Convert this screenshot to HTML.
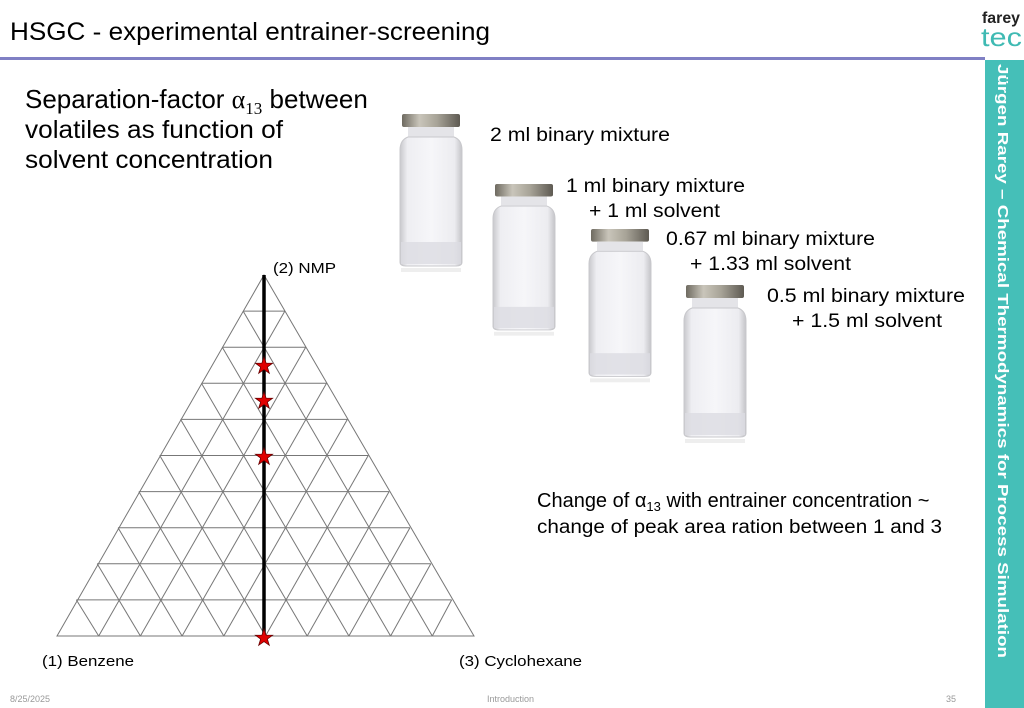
<!DOCTYPE html>
<html><head><meta charset="utf-8"><style>
html,body{margin:0;padding:0;background:#fff;}
body{width:1024px;height:708px;overflow:hidden;position:relative;font-family:"Liberation Sans",Arial,sans-serif;}
</style></head><body>
<svg width="1024" height="708" viewBox="0 0 1024 708" xmlns="http://www.w3.org/2000/svg" style="position:absolute;left:0;top:0">
<defs>
<linearGradient id="cap" x1="0" y1="0" x2="1" y2="0">
<stop offset="0" stop-color="#6e6a60"/><stop offset="0.3" stop-color="#c9c5ba"/><stop offset="0.6" stop-color="#a8a498"/><stop offset="1" stop-color="#5e5a52"/></linearGradient>
<linearGradient id="glass" x1="0" y1="0" x2="1" y2="0">
<stop offset="0" stop-color="#c8c8cc"/><stop offset="0.12" stop-color="#eeeef2"/><stop offset="0.5" stop-color="#f6f6f9"/><stop offset="0.88" stop-color="#ececf0"/><stop offset="1" stop-color="#c4c4c8"/></linearGradient>
<g id="vial">
<rect x="2" y="0" width="58" height="13" rx="2" fill="url(#cap)"/>
<rect x="8" y="13" width="46" height="10" fill="#e4e4e8"/>
<path d="M8 23 Q0 26 0 36 L0 148 Q0 152 6 152 L56 152 Q62 152 62 148 L62 36 Q62 26 54 23 Z" fill="url(#glass)" stroke="#c8c8cc" stroke-width="1"/>
<rect x="1" y="128" width="60" height="22" fill="#dcdce2" opacity="0.8"/>
<rect x="1" y="154" width="60" height="4" fill="#eeeeee"/>
</g>
<polygon id="star" points="0,-9 2.1,-2.9 8.6,-2.8 3.4,1.1 5.3,7.3 0,3.6 -5.3,7.3 -3.4,1.1 -8.6,-2.8 -2.1,-2.9" fill="#e00000" stroke="#600" stroke-width="0.8"/>
</defs>

<text x="10" y="40" font-size="25" fill="#000" textLength="480" lengthAdjust="spacingAndGlyphs">HSGC - experimental entrainer-screening</text>
<rect x="0" y="57" width="985" height="3" fill="#8080c4"/>

<text x="982" y="23" font-size="16" fill="#222" font-weight="bold" textLength="38" lengthAdjust="spacingAndGlyphs">farey</text>
<text x="981" y="46" font-size="26" fill="#3fbab3" textLength="41" lengthAdjust="spacingAndGlyphs">tec</text>

<rect x="985" y="60" width="39" height="648" fill="#45bfb8"/>
<text transform="translate(998,64) rotate(90)" font-size="15" font-weight="bold" fill="#fff" textLength="594" lengthAdjust="spacingAndGlyphs">Jürgen Rarey  –  Chemical Thermodynamics for Process Simulation</text>

<g font-size="25" fill="#000">
<text x="25" y="108" font-size="26">Separation-factor <tspan font-family="Liberation Serif">α</tspan><tspan font-family="Liberation Serif" font-size="17" dy="6">13</tspan><tspan dy="-6"> between</tspan></text>
<text x="25" y="138" textLength="258" lengthAdjust="spacingAndGlyphs">volatiles as function of</text>
<text x="25" y="168" textLength="248" lengthAdjust="spacingAndGlyphs">solvent concentration</text>
</g>

<use href="#vial" x="400" y="114"/>
<use href="#vial" x="493" y="184" transform="translate(493,184) scale(1,0.96) translate(-493,-184)"/>
<use href="#vial" x="589" y="229" transform="translate(589,229) scale(1,0.97) translate(-589,-229)"/>
<use href="#vial" x="684" y="285"/>

<g font-size="19" fill="#000">
<text x="490" y="141" textLength="180" lengthAdjust="spacingAndGlyphs">2 ml binary mixture</text>
<text x="566" y="192" textLength="179" lengthAdjust="spacingAndGlyphs">1 ml binary mixture</text>
<text x="589" y="217" textLength="131" lengthAdjust="spacingAndGlyphs">+ 1 ml solvent</text>
<text x="666" y="245" textLength="209" lengthAdjust="spacingAndGlyphs">0.67 ml binary mixture</text>
<text x="690" y="270" textLength="161" lengthAdjust="spacingAndGlyphs">+ 1.33 ml solvent</text>
<text x="767" y="302" textLength="198" lengthAdjust="spacingAndGlyphs">0.5 ml binary mixture</text>
<text x="792" y="327" textLength="150" lengthAdjust="spacingAndGlyphs">+ 1.5 ml solvent</text>
<text x="537" y="507" font-size="20">Change of α<tspan font-size="13" dy="4">13</tspan><tspan dy="-4"> with entrainer concentration ~</tspan></text>
<text x="537" y="533" textLength="405" lengthAdjust="spacingAndGlyphs">change of peak area ration between 1 and 3</text>
</g>

<g stroke="#777" stroke-width="1" fill="none">
<polygon points="264,275 57,636 474,636"/>
<line x1="243.15" y1="311.1" x2="284.85" y2="311.1"/>
<line x1="222.3" y1="347.2" x2="305.7" y2="347.2"/>
<line x1="201.45" y1="383.3" x2="326.55" y2="383.3"/>
<line x1="180.6" y1="419.4" x2="347.4" y2="419.4"/>
<line x1="159.75" y1="455.5" x2="368.25" y2="455.5"/>
<line x1="138.9" y1="491.6" x2="389.1" y2="491.6"/>
<line x1="118.05" y1="527.7" x2="409.95" y2="527.7"/>
<line x1="97.2" y1="563.8" x2="430.8" y2="563.8"/>
<line x1="76.35" y1="599.9" x2="451.65" y2="599.9"/>
<line x1="98.7" y1="636" x2="284.85" y2="311.1"/>
<line x1="140.4" y1="636" x2="305.7" y2="347.2"/>
<line x1="182.1" y1="636" x2="326.55" y2="383.3"/>
<line x1="223.8" y1="636" x2="347.4" y2="419.4"/>
<line x1="265.5" y1="636" x2="368.25" y2="455.5"/>
<line x1="307.2" y1="636" x2="389.1" y2="491.6"/>
<line x1="348.9" y1="636" x2="409.95" y2="527.7"/>
<line x1="390.6" y1="636" x2="430.8" y2="563.8"/>
<line x1="432.3" y1="636" x2="451.65" y2="599.9"/>
<line x1="98.7" y1="636" x2="76.35" y2="599.9"/>
<line x1="140.4" y1="636" x2="97.2" y2="563.8"/>
<line x1="182.1" y1="636" x2="118.05" y2="527.7"/>
<line x1="223.8" y1="636" x2="138.9" y2="491.6"/>
<line x1="265.5" y1="636" x2="159.75" y2="455.5"/>
<line x1="307.2" y1="636" x2="180.6" y2="419.4"/>
<line x1="348.9" y1="636" x2="201.45" y2="383.3"/>
<line x1="390.6" y1="636" x2="222.3" y2="347.2"/>
<line x1="432.3" y1="636" x2="243.15" y2="311.1"/>
</g>
<line x1="264" y1="275" x2="264" y2="636" stroke="#000" stroke-width="3.5"/>
<use href="#star" x="264" y="366"/>
<use href="#star" x="264" y="401"/>
<use href="#star" x="264" y="457"/>
<use href="#star" x="264" y="638"/>

<g font-size="15" fill="#000">
<text x="273" y="273" textLength="63" lengthAdjust="spacingAndGlyphs">(2) NMP</text>
<text x="42" y="666" textLength="92" lengthAdjust="spacingAndGlyphs">(1) Benzene</text>
<text x="459" y="666" textLength="123" lengthAdjust="spacingAndGlyphs">(3) Cyclohexane</text>
</g>
<g font-size="9" fill="#999">
<text x="10" y="702">8/25/2025</text>
<text x="487" y="702">Introduction</text>
<text x="946" y="702">35</text>
</g>
</svg>
</body></html>
